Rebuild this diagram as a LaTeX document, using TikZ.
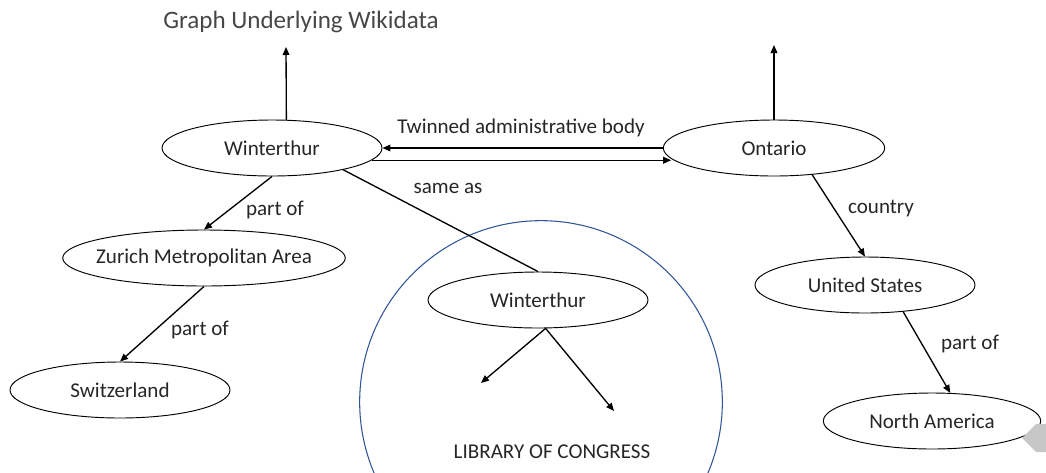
\documentclass[tikz,border=0pt]{standalone}
\usepackage{fontspec}
\setmainfont{Carlito}
\usetikzlibrary{shapes.geometric,arrows.meta,calc}
\definecolor{txt}{HTML}{262626}
\definecolor{locblue}{HTML}{2F5597}
\tikzset{
  ent/.style={ellipse,draw=black,line width=0.7pt,inner sep=0pt,
    minimum width=165pt,minimum height=42pt,text=txt,font=\fontsize{15.8}{18}\selectfont},
  lbl/.style={text=txt,font=\fontsize{15.8}{18}\selectfont,inner sep=0pt},
  arr/.style={line width=1pt,-{Triangle[length=6pt,width=5pt]}},
  plain/.style={line width=1pt}
}
\begin{document}
\begin{tikzpicture}[x=0.75pt,y=-0.75pt]
\useasboundingbox (0,0) rectangle (1046,472);
% circle of the Library of Congress
\draw[locblue,line width=0.8pt] (541,402) circle[radius=136pt];
\node[lbl] (loc) at (552,452) {LIBRARY OF CONGRESS};
% title
\node[text=black!72,font=\fontsize{18.8}{22}\selectfont,inner sep=0pt] (title) at (301,22) {Graph Underlying Wikidata};
% entities
\node[ent] (w1) at (272,148) {Winterthur};
\node[ent,minimum width=166pt] (on) at (774,148) {Ontario};
\node[ent,minimum width=211pt,inner xsep=-6pt] (zma) at (204,258) {Zurich Metropolitan Area};
\node[ent] (sw) at (120,390) {Switzerland};
\node[ent,fill=white] (w2) at (538,300) {Winterthur};
\node[ent] (us) at (865,285) {United States};
\node[ent,minimum width=163pt] (na) at (932,421) {North America};
% free ends
\coordinate (w1up) at (286,47);
\coordinate (onup) at (774,45);
\coordinate (l1) at (481,383);
\coordinate (l2) at (614,411);
% connectors
\draw[arr] (w1.63) -- (w1up);
\draw[arr] (on.north) -- (onup);
\draw[arr] (on.west) -- (w1.east);
\draw[arr] (w1.-7) -- (w1.-7 -| on.186);
\node[lbl] (twin) at (521,128) {Twinned administrative body};
\draw[arr] (w1.south) -- (zma.north);
\node[lbl] (p1) at (275,210) {part of};
\draw[plain] (w1.-17) -- (w2.north);
\node[lbl] (same) at (448,188) {same as};
\draw[arr] (zma.south) -- (sw.north);
\node[lbl] (p2) at (200,330) {part of};
\draw[arr] (w2.-75) -- (l1);
\draw[arr] (w2.-75) -- (l2);
\draw[arr] (on.-35) -- (us.north);
\node[lbl] (ctry) at (881,209) {country};
\draw[arr] (us.-35) -- (na.57);
\node[lbl] (p3) at (970,344) {part of};
% speaker icon (partly cut off)
\fill[black!22] (1022,438) -- (1036,424) -- (1046,424) -- (1046,452) -- (1036,452) -- cycle;
\end{tikzpicture}
\end{document}
